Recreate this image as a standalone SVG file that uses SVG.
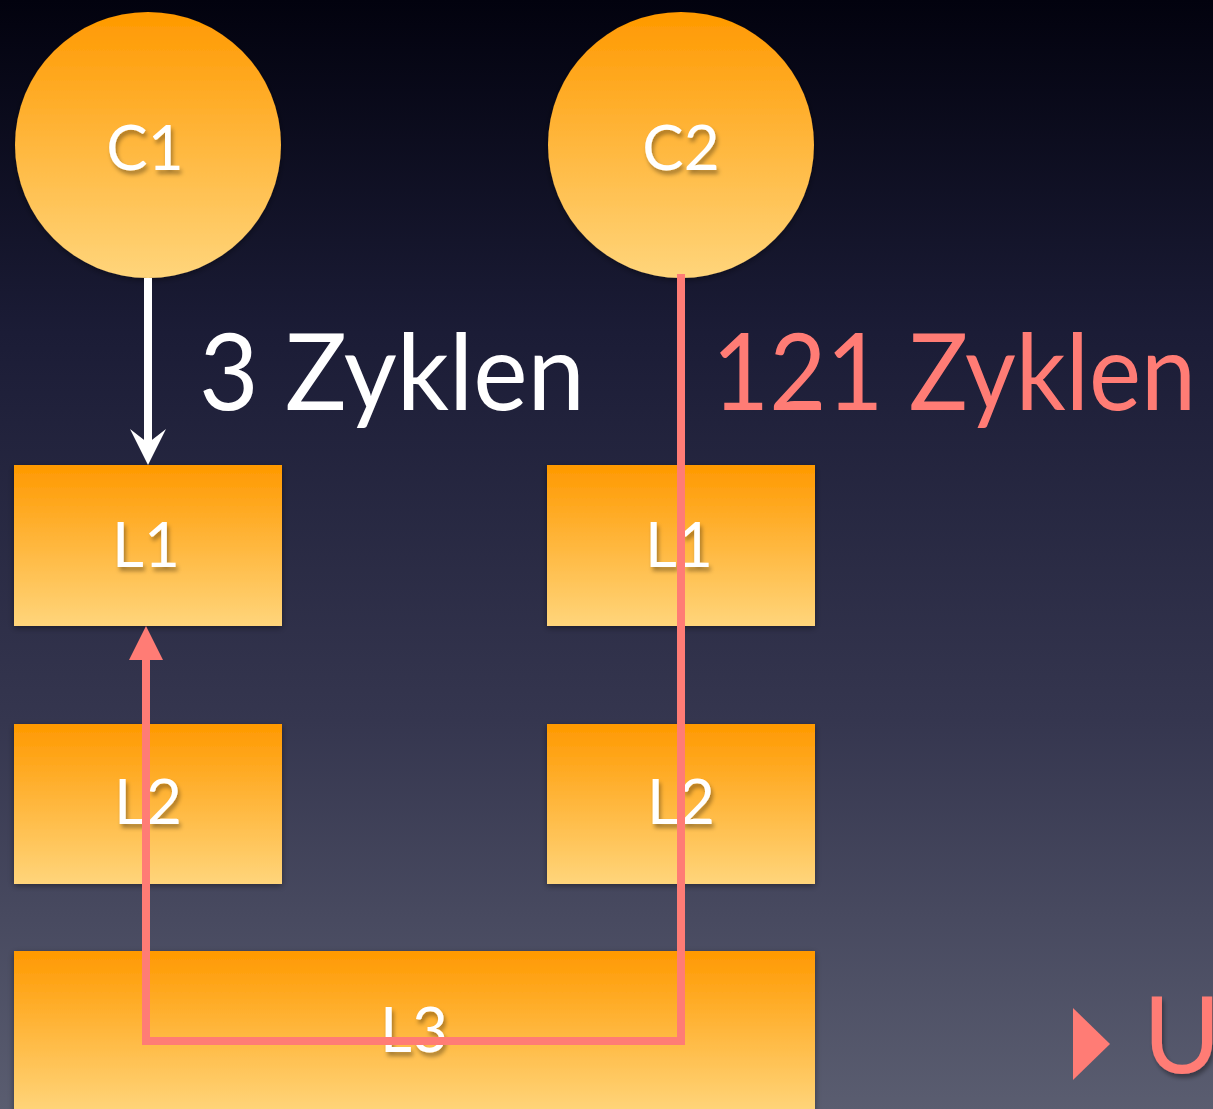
<svg xmlns="http://www.w3.org/2000/svg" width="1213" height="1109" viewBox="0 0 1213 1109">
<defs>
<linearGradient id="bg" x1="0" y1="0" x2="0" y2="1">
<stop offset="0" stop-color="#02020e"/>
<stop offset="0.3" stop-color="#1b1c36"/>
<stop offset="0.65" stop-color="#35364f"/>
<stop offset="1" stop-color="#5a5d70"/>
</linearGradient>
<linearGradient id="org" x1="0" y1="0" x2="0" y2="1">
<stop offset="0" stop-color="#ff9900"/>
<stop offset="1" stop-color="#ffd57b"/>
</linearGradient>
<linearGradient id="orgL3" x1="0" y1="951" x2="0" y2="1112" gradientUnits="userSpaceOnUse">
<stop offset="0" stop-color="#ff9900"/>
<stop offset="1" stop-color="#ffd57b"/>
</linearGradient>
<filter id="ts" x="-20%" y="-20%" width="150%" height="160%">
<feDropShadow dx="2" dy="4" stdDeviation="2" flood-color="#000" flood-opacity="0.35"/>
</filter>
<filter id="bs" x="-5%" y="-5%" width="110%" height="110%">
<feDropShadow dx="0" dy="2" stdDeviation="3" flood-color="#000" flood-opacity="0.4"/>
</filter>
</defs>
<style>
.node{fill:url(#org);filter:url(#bs)}
.lbl{font-family:Lato,"Liberation Sans",sans-serif;font-size:62px;fill:#fff;text-anchor:middle;filter:url(#ts)}
.big{font-family:Lato,"Liberation Sans",sans-serif;font-size:106px}
</style>
<rect x="0" y="0" width="1213" height="1109" fill="url(#bg)"/>

<g id="C1"><circle class="node" cx="148" cy="145" r="133"/><text class="lbl" x="145" y="170">C1</text></g>
<g id="C2"><circle class="node" cx="681" cy="145" r="133"/><text class="lbl" x="681" y="170">C2</text></g>
<g id="L1a"><rect class="node" x="14" y="465" width="268" height="161"/><text class="lbl" x="146" y="567">L1</text></g>
<g id="L1b"><rect class="node" x="547" y="465" width="268" height="161"/><text class="lbl" x="679" y="567">L1</text></g>
<g id="L2a"><rect class="node" x="14" y="724" width="268" height="160"/><text class="lbl" x="148" y="824">L2</text></g>
<g id="L2b"><rect class="node" x="547" y="724" width="268" height="160"/><text class="lbl" x="681" y="824">L2</text></g>
<g id="L3"><rect x="14" y="951" width="801" height="170" fill="url(#orgL3)" filter="url(#bs)"/><text class="lbl" x="414" y="1052">L3</text></g>

<g id="connectors">
<line x1="148" y1="278" x2="148" y2="446" stroke="#fff" stroke-width="8"/>
<polygon points="148,465 130,429 148,443 166,429" fill="#fff"/>
<path d="M681,278 V1041 H146 V655" fill="none" stroke="#ff7c75" stroke-width="8" stroke-linejoin="miter" stroke-linecap="square"/>
<polygon points="146,626 129,660 163,660" fill="#ff7c75"/>
</g>

<text class="big" x="199" y="410" fill="#fff" textLength="386" lengthAdjust="spacingAndGlyphs">3 Zyklen</text>
<text class="big" x="712" y="410" fill="#ff7c75" textLength="484" lengthAdjust="spacingAndGlyphs">121 Zyklen</text>

<polygon points="1073,1008 1110,1044 1073,1080" fill="#ff7c75"/>
<text class="big" x="1143" y="1073" fill="#ff7c75" filter="url(#ts)">U</text>
</svg>
